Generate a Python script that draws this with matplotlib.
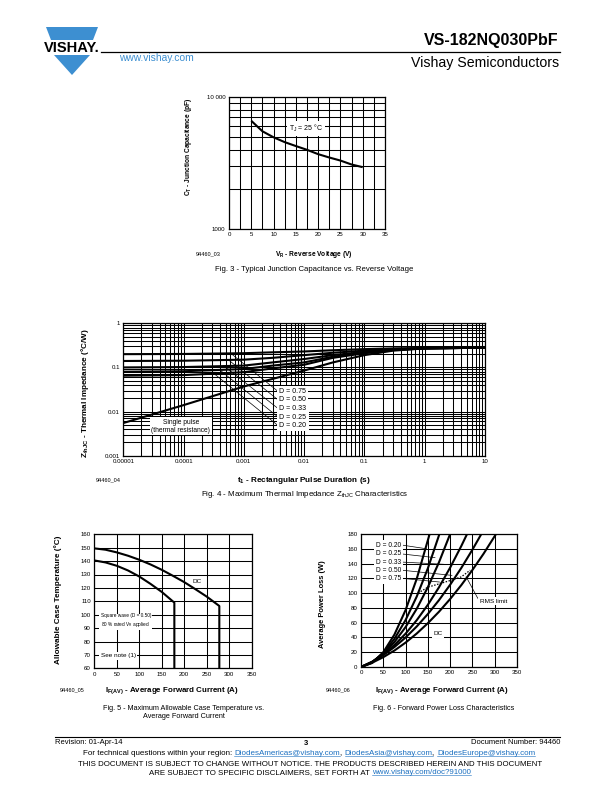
import matplotlib.pyplot as plt
from matplotlib.lines import Line2D
from matplotlib.patches import Polygon
from matplotlib.ticker import FixedLocator, NullFormatter, MultipleLocator

plt.rcParams['font.family'] = ['Liberation Sans', 'DejaVu Sans']
plt.rcParams['mathtext.fontset'] = 'custom'
plt.rcParams['mathtext.rm'] = 'Liberation Sans'
plt.rcParams['mathtext.it'] = 'Liberation Sans:italic'
plt.rcParams['mathtext.bf'] = 'Liberation Sans:bold'

# Fig. 3 - junction capacitance vs reverse voltage
vr = [5, 7.5, 10, 12.5, 15, 17.5, 20, 22.5, 25, 27.5, 30]
ct = [6600, 5500, 4950, 4550, 4250, 3980, 3690, 3480, 3300, 3080, 2940]

# Fig. 4 - thermal impedance
t_pulse = [1e-5, 1e-4, 1e-3, 3e-3, 1e-2, 3e-2, 0.1, 0.3, 1, 10]
zth = {
    'single': [0.0055, 0.014, 0.037, 0.055, 0.085, 0.13, 0.19, 0.24, 0.27, 0.28],
    '0.75': [0.20, 0.202, 0.21, 0.22, 0.23, 0.245, 0.26, 0.27, 0.275, 0.28],
    '0.50': [0.14, 0.142, 0.15, 0.165, 0.19, 0.215, 0.24, 0.262, 0.272, 0.28],
    '0.33': [0.10, 0.102, 0.11, 0.13, 0.155, 0.19, 0.225, 0.255, 0.27, 0.28],
    '0.25': [0.08, 0.082, 0.092, 0.11, 0.13, 0.175, 0.215, 0.25, 0.27, 0.28],
    '0.20': [0.065, 0.067, 0.078, 0.095, 0.115, 0.165, 0.21, 0.248, 0.27, 0.28],
}
d_labels = ['0.75', '0.50', '0.33', '0.25', '0.20']
d_label_z = [0.0285, 0.0183, 0.0117, 0.0075, 0.0048]
d_leader_t = [6.3e-4, 5.5e-4, 4.6e-4, 3.9e-4, 3.1e-4]
d_leader_z = [0.2, 0.15, 0.11, 0.09, 0.075]

# Fig. 5 - allowable case temperature
dc_i = [0, 25, 50, 75, 100, 125, 150, 175, 200, 225, 250, 278, 278]
dc_t = [149.5, 148.5, 146.5, 144, 141, 137.5, 133.5, 129, 124.3, 119, 113.5, 106.5, 60]
sq_i = [0, 25, 50, 75, 100, 125, 150, 178, 178]
sq_t = [140.5, 139, 136.5, 133, 128.5, 123, 117, 109, 60]

# Fig. 6 - forward power loss
loss = {
    'DC': ([0, 25, 50, 75, 100, 125, 150, 175, 200, 225, 250, 275, 303],
           [0, 5.8, 13.3, 22.3, 33, 45.3, 59.3, 74.8, 92, 110.8, 131.3, 153.3, 180]),
    '0.75': ([0, 25, 50, 75, 100, 125, 150, 175, 200, 225, 250, 270],
             [0, 7.0, 16, 27, 39.9, 54.8, 71.7, 90.5, 111.3, 134, 158.8, 180]),
    '0.50': ([0, 25, 50, 75, 100, 125, 150, 175, 200, 225, 238],
             [0, 7.1, 17, 29.7, 45.1, 63.3, 84.2, 107.9, 134.5, 163.7, 180]),
    '0.33': ([0, 25, 50, 75, 100, 125, 150, 175, 200],
             [0, 6.75, 18, 33.75, 54, 78.75, 108, 141.75, 180]),
    '0.25': ([0, 25, 50, 75, 100, 125, 150, 176],
             [0, 6.3, 19, 38.1, 63.5, 95.3, 133.5, 180]),
    '0.20': ([0, 25, 50, 75, 100, 125, 154],
             [0, 5.4, 20, 43.9, 77, 119.3, 180]),
}
loss_labels = ['0.20', '0.25', '0.33', '0.50', '0.75']
loss_label_p = [165, 153, 142, 131, 120]
loss_leader_end = [(147, 160), (166, 148), (186, 139), (204, 124), (176, 115)]
rms_i = [128, 150, 200, 225, 245]
rms_p = [100, 108, 117, 122, 131]

W, H = 612, 792
fig = plt.figure(figsize=(6.12, 7.92), dpi=100)


def fx(x):
    return x / W


def fy(y):
    return 1 - y / H


def page_axes(left, top, right, bottom):
    ax = fig.add_axes([fx(left), fy(bottom), (right - left) / W, (bottom - top) / H])
    ax.set_axisbelow(True)
    for s in ax.spines.values():
        s.set_linewidth(0.9)
    ax.tick_params(which='both', length=0, labelsize=4.4, pad=2.5)
    return ax


def ftext(x, y, s, **kw):
    return fig.text(fx(x), fy(y), s, **kw)


grid_kw = dict(color='black', lw=0.75)
curve_kw = dict(color='black', lw=1.5, solid_capstyle='butt')
box = dict(boxstyle='square,pad=0.25', fc='white', ec='none')

# ---------------- header ----------------
blue = '#3d8fd1'
fig.add_artist(Polygon([(fx(46), fy(27)), (fx(98), fy(27)), (fx(93), fy(40)), (fx(51), fy(40))],
                       closed=True, fc=blue, ec='none'))
fig.add_artist(Polygon([(fx(54), fy(55)), (fx(90), fy(55)), (fx(72), fy(75))],
                       closed=True, fc=blue, ec='none'))
ftext(71.5, 47.5, 'VISHAY.', fontsize=10.5, fontweight='bold', ha='center', va='center')
fig.add_artist(Line2D([fx(101), fx(560)], [fy(52), fy(52)], color='black', lw=0.9))
ftext(559, 45, 'VS-182NQ030PbF', fontsize=11.5, fontweight='bold', ha='right', va='baseline')
ftext(559, 67, 'Vishay Semiconductors', fontsize=10.2, ha='right', va='baseline')
ftext(119, 61, 'www.vishay.com', fontsize=7.4, color=blue, va='baseline')

# ---------------- Fig. 3 ----------------
ax3 = page_axes(229, 97, 385, 229)
ax3.set_yscale('log')
ax3.plot(vr, ct, **curve_kw)
ax3.set_xlim(0, 35)
ax3.set_ylim(1000, 10000)
ax3.xaxis.set_major_locator(MultipleLocator(5))
ax3.xaxis.set_minor_locator(MultipleLocator(2.5))
ax3.yaxis.set_major_locator(FixedLocator([1000, 10000]))
ax3.yaxis.set_minor_locator(FixedLocator(range(2000, 10000, 1000)))
ax3.yaxis.set_minor_formatter(NullFormatter())
ax3.set_yticklabels(['1000', '10 000'])
ax3.grid(True, which='both', **grid_kw)
ax3.text(17.3, 5800, r'T$_\mathregular{J}$ = 25 °C', fontsize=5.0, ha='center', va='center', bbox=box)
ftext(189, 147, r'$\mathbf{C_T}$ - Junction Capacitance (pF)', fontsize=4.8, fontweight='bold',
      rotation=90, ha='center', va='center')
ftext(314, 254, r'$\mathbf{V_R}$ - Reverse Voltage (V)', fontsize=4.8, fontweight='bold',
      ha='center', va='center')
ftext(208, 254, '94460_03', fontsize=4.0, ha='center', va='center')
ftext(314, 270, 'Fig. 3 - Typical Junction Capacitance vs. Reverse Voltage', fontsize=5.6,
      ha='center', va='center')

# ---------------- Fig. 4 ----------------
ax4 = page_axes(123.3, 323.3, 485, 455.7)
ax4.set_xscale('log')
ax4.set_yscale('log')
for key in ['single', '0.20', '0.25', '0.33', '0.50', '0.75']:
    ax4.plot(t_pulse, zth[key], **curve_kw)
ax4.set_xlim(1e-5, 10)
ax4.set_ylim(1e-3, 1)
xt = [1e-5, 1e-4, 1e-3, 1e-2, 0.1, 1, 10]
ax4.xaxis.set_major_locator(FixedLocator(xt))
ax4.set_xticklabels(['0.00001', '0.0001', '0.001', '0.01', '0.1', '1', '10'])
yt = [1e-3, 1e-2, 0.1, 1]
ax4.yaxis.set_major_locator(FixedLocator(yt))
ax4.set_yticklabels(['0.001', '0.01', '0.1', '1'])
ax4.xaxis.set_minor_formatter(NullFormatter())
ax4.yaxis.set_minor_formatter(NullFormatter())
ax4.grid(True, which='both', **grid_kw)
for lab, lz, st, sz in zip(d_labels, d_label_z, d_leader_t, d_leader_z):
    ax4.plot([st, 0.0037], [sz, lz], color='black', lw=0.5)
    ax4.text(0.0039, lz, 'D = ' + lab, fontsize=5.0, ha='left', va='center',
             bbox=dict(boxstyle='square,pad=0.3', fc='white', ec='none'), zorder=5)
ax4.text(9.0e-5, 0.0047, 'Single pulse\n(thermal resistance)', fontsize=4.8, ha='center',
         va='center', linespacing=1.2, bbox=box, zorder=5)
ftext(85, 393, r'$\mathbf{Z_{thJC}}$ - Thermal Impedance (°C/W)', fontsize=5.9,
      fontweight='bold', rotation=90, ha='center', va='center')
ftext(304, 480, r'$\mathbf{t_1}$ - Rectangular Pulse Duration (s)', fontsize=5.9,
      fontweight='bold', ha='center', va='center')
ftext(108, 480, '94460_04', fontsize=4.0, ha='center', va='center')
ftext(305, 494, r'Fig. 4 - Maximum Thermal Impedance Z$_{\mathrm{thJC}}$ Characteristics',
      fontsize=5.7, ha='center', va='center')

# ---------------- Fig. 5 ----------------
ax5 = page_axes(94.3, 534.3, 251.7, 668.3)
ax5.plot(dc_i, dc_t, **curve_kw)
ax5.plot(sq_i, sq_t, **curve_kw)
ax5.set_xlim(0, 350)
ax5.set_ylim(60, 160)
ax5.xaxis.set_major_locator(MultipleLocator(50))
ax5.yaxis.set_major_locator(MultipleLocator(10))
ax5.grid(True, **grid_kw)
ax5.text(228, 125, 'DC', fontsize=4.6, ha='center', va='center', bbox=box)
ax5.text(14, 95.3, 'Square wave (D = 0.50)\n80 % rated V$_\\mathregular{R}$ applied', fontsize=3.4,
         ha='left', va='center', linespacing=1.4, bbox=box)
ax5.text(14, 69.2, 'See note (1)', fontsize=4.6, ha='left', va='center', bbox=box)
ftext(58, 600, 'Allowable Case Temperature (°C)', fontsize=5.9, fontweight='bold',
      rotation=90, ha='center', va='center')
ftext(172, 691, r'$\mathbf{I_{F(AV)}}$ - Average Forward Current (A)', fontsize=5.7,
      fontweight='bold', ha='center', va='center')
ftext(72, 690, '94460_05', fontsize=4.0, ha='center', va='center')
ftext(184, 708, 'Fig. 5 - Maximum Allowable Case Temperature vs.', fontsize=5.2,
      ha='center', va='center')
ftext(184, 717, 'Average Forward Current', fontsize=5.2, ha='center', va='center')

# ---------------- Fig. 6 ----------------
ax6 = page_axes(361, 534, 517, 667)
for key in ['DC', '0.75', '0.50', '0.33', '0.25', '0.20']:
    ax6.plot(*loss[key], **curve_kw)
ax6.plot(rms_i, rms_p, color='black', lw=0.9, ls=(0, (1.2, 1.2)))
ax6.set_xlim(0, 350)
ax6.set_ylim(0, 180)
ax6.xaxis.set_major_locator(MultipleLocator(50))
ax6.yaxis.set_major_locator(MultipleLocator(20))
ax6.grid(True, **grid_kw)
for lab, lp, end in zip(loss_labels, loss_label_p, loss_leader_end):
    ax6.plot([92, end[0]], [lp, end[1]], color='black', lw=0.5)
    ax6.text(90, lp, 'D = ' + lab, fontsize=4.8, ha='right', va='center',
             bbox=dict(boxstyle='square,pad=0.3', fc='white', ec='none'), zorder=5)
ax6.plot([236, 262], [122, 93], color='black', lw=0.5)
ax6.text(266, 89, 'RMS limit', fontsize=4.6, ha='left', va='center', bbox=box, zorder=5)
ax6.text(172, 45, 'DC', fontsize=4.6, ha='center', va='center', bbox=box)
ftext(323, 604, 'Average Power Loss (W)', fontsize=5.4, fontweight='bold',
      rotation=90, ha='center', va='center')
ftext(442, 691, r'$\mathbf{I_{F(AV)}}$ - Average Forward Current (A)', fontsize=5.7,
      fontweight='bold', ha='center', va='center')
ftext(338, 690, '94460_06', fontsize=4.0, ha='center', va='center')
ftext(444, 708, 'Fig. 6 - Forward Power Loss Characteristics', fontsize=5.2,
      ha='center', va='center')

# ---------------- footer ----------------
fig.add_artist(Line2D([fx(55), fx(560)], [fy(737), fy(737)], color='black', lw=0.8))
ftext(55, 744, 'Revision: 01-Apr-14', fontsize=5.5, va='baseline')
ftext(306, 745, '3', fontsize=5.5, fontweight='bold', ha='center', va='baseline')
ftext(560, 744, 'Document Number: 94460', fontsize=5.5, ha='right', va='baseline')

link = '#1a6fc0'
renderer = fig.canvas.get_renderer()


def rich_line(pieces, y, cx, size):
    texts = [fig.text(0, fy(y), s, fontsize=size, color=c, va='baseline') for s, c, u in pieces]
    widths = [t.get_window_extent(renderer).width for t in texts]
    x0 = cx - sum(widths) / 2
    for t, w, (s, c, u) in zip(texts, widths, pieces):
        t.set_x(fx(x0))
        if u:
            fig.add_artist(Line2D([fx(x0), fx(x0 + w)], [fy(y + 1.3)] * 2, color=c, lw=0.4))
        x0 += w


rich_line([('For technical questions within your region: ', 'black', False),
           ('DiodesAmericas@vishay.com', link, True), (', ', 'black', False),
           ('DiodesAsia@vishay.com', link, True), (', ', 'black', False),
           ('DiodesEurope@vishay.com', link, True)], 755, 309, 5.8)
ftext(310, 766, 'THIS DOCUMENT IS SUBJECT TO CHANGE WITHOUT NOTICE. THE PRODUCTS DESCRIBED HEREIN AND THIS DOCUMENT',
      fontsize=5.7, ha='center', va='baseline')
rich_line([('ARE SUBJECT TO SPECIFIC DISCLAIMERS, SET FORTH AT ', 'black', False),
           ('www.vishay.com/doc?91000', link, True)], 774, 310, 5.7)

fig.savefig('out.png', dpi=100)
